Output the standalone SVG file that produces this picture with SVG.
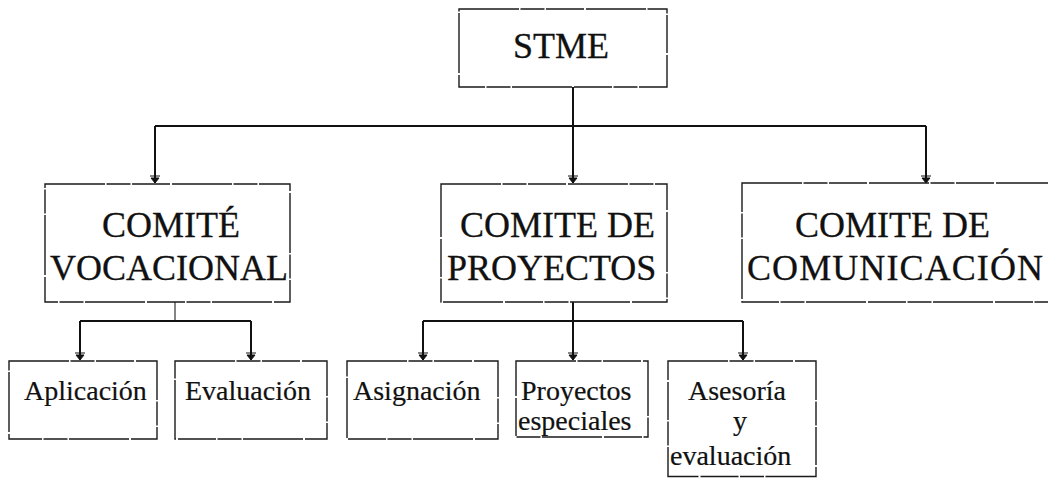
<svg xmlns="http://www.w3.org/2000/svg" width="1048" height="478" viewBox="0 0 1048 478">
  <defs>
    <style>
      .box { fill: #ffffff; stroke: #1a1a1a; stroke-width: 1.4; stroke-dasharray: 60 1.5 24 1.5 38 2; }
      .big { font-family: 'Liberation Serif', 'DejaVu Serif', serif; font-size: 36px; fill: #111111; stroke: #111111; stroke-width: 0.3; }
      .small { font-family: 'Liberation Serif', 'DejaVu Serif', serif; font-size: 28px; fill: #111111; stroke: #111111; stroke-width: 0.2; }
      .conn { fill: none; stroke: #111111; stroke-width: 2; }
      .thin { fill: none; stroke: #333333; stroke-width: 1.2; }
    </style>
    <marker id="arr" viewBox="-9 -6 10 12" refX="0" refY="0" markerWidth="10" markerHeight="12" markerUnits="userSpaceOnUse" orient="auto">
      <path d="M-7,-5 L-7,5 M-5,-4 L-5,4 L0,0 Z" fill="#111111" stroke="#111111" stroke-width="1"/>
    </marker>
  </defs>

  <g id="connectors">
    <path class="conn" d="M573,87 V126"/>
    <path class="conn" d="M155,126 H926"/>
    <path class="conn" d="M155,126 V183" marker-end="url(#arr)"/>
    <path class="conn" d="M573,126 V183" marker-end="url(#arr)"/>
    <path class="conn" d="M926,126 V183" marker-end="url(#arr)"/>

    <path class="thin" d="M175,302 V321"/>
    <path class="conn" d="M80,321 H251"/>
    <path class="conn" d="M80,321 V360" marker-end="url(#arr)"/>
    <path class="conn" d="M251,321 V360" marker-end="url(#arr)"/>

    <path class="conn" d="M573,302 V321"/>
    <path class="conn" d="M423,321 H743"/>
    <path class="conn" d="M423,321 V360" marker-end="url(#arr)"/>
    <path class="conn" d="M573,321 V360" marker-end="url(#arr)"/>
    <path class="conn" d="M743,321 V360" marker-end="url(#arr)"/>
  </g>

  <g id="stme">
    <rect class="box" x="459" y="9" width="208" height="78"/>
    <text class="big" x="513" y="58">STME</text>
  </g>

  <g id="comite-vocacional">
    <rect class="box" x="45" y="184" width="245" height="118"/>
    <text class="big" x="102" y="237">COMITÉ</text>
    <text class="big" x="50" y="280">VOCACIONAL</text>
  </g>

  <g id="comite-proyectos">
    <rect class="box" x="441" y="184" width="226" height="118"/>
    <text class="big" x="460" y="237">COMITE DE</text>
    <text class="big" x="447" y="280">PROYECTOS</text>
  </g>

  <g id="comite-comunicacion">
    <rect class="box" x="742" y="183" width="320" height="119"/>
    <text class="big" x="795" y="237">COMITE DE</text>
    <text class="big" x="747" y="280" textLength="296" lengthAdjust="spacing">COMUNICACIÓN</text>
  </g>

  <g id="aplicacion">
    <rect class="box" x="9" y="361" width="148" height="78"/>
    <text class="small" x="24" y="400">Aplicación</text>
  </g>

  <g id="evaluacion">
    <rect class="box" x="175" y="361" width="152" height="78"/>
    <text class="small" x="185" y="400">Evaluación</text>
  </g>

  <g id="asignacion">
    <rect class="box" x="347" y="361" width="151" height="78"/>
    <text class="small" x="353" y="400">Asignación</text>
  </g>

  <g id="proyectos-especiales">
    <rect class="box" x="516" y="361" width="132" height="76"/>
    <text class="small" x="521" y="400">Proyectos</text>
    <text class="small" x="518" y="430">especiales</text>
  </g>

  <g id="asesoria-evaluacion">
    <rect class="box" x="668" y="361" width="148" height="115.5"/>
    <text class="small" x="688" y="400">Asesoría</text>
    <text class="small" x="740" y="430" text-anchor="middle">y</text>
    <text class="small" x="670" y="465">evaluación</text>
  </g>
</svg>
